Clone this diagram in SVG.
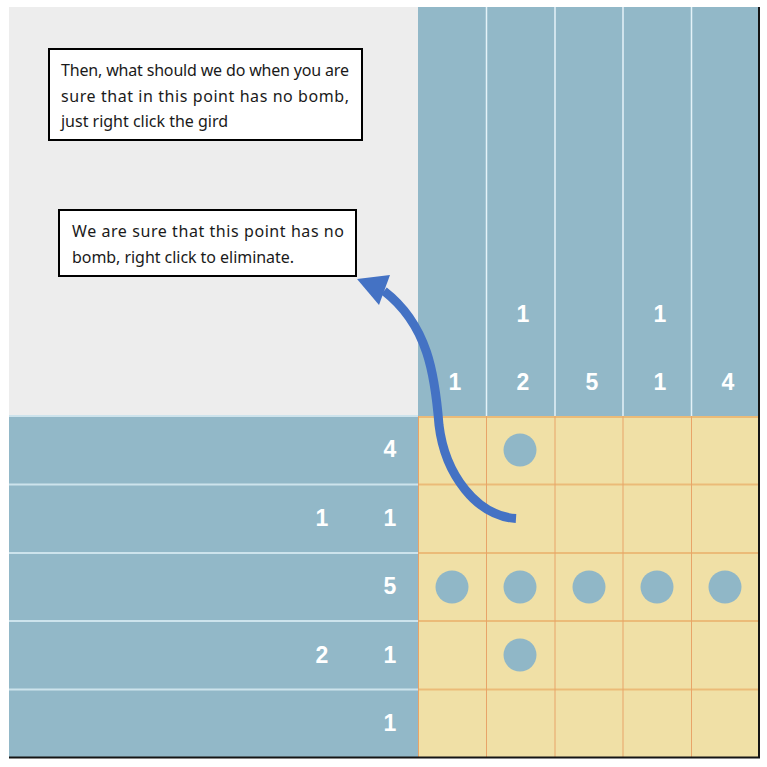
<svg xmlns="http://www.w3.org/2000/svg" width="767" height="767" viewBox="0 0 767 767">
<style>
.hdr{fill:#92B8C8}
.dot{fill:#90B7C7}
.num{font-family:"Liberation Sans",Arial,sans-serif;font-weight:bold;font-size:23px;fill:#FFFFFF;text-anchor:middle}
.box{fill:#FFFFFF;stroke:#000000;stroke-width:2}
.txt{font-family:"Noto Sans","Open Sans",sans-serif;font-size:16px;fill:#1A1A1A}
.wl{stroke:#E4F2F8;stroke-width:1.5}
.wh{stroke:#CDE3EC;stroke-width:2}
.gv{stroke:#E8A468;stroke-width:1}
.gh{stroke:#EBBB78;stroke-width:1.8}
</style>
<rect x="0" y="0" width="767" height="767" fill="#FFFFFF"/>
<g id="background">
<rect x="9" y="7" width="409" height="409" fill="#EDEDED"/>
<rect class="hdr" x="418" y="7" width="341" height="409"/>
<rect class="hdr" x="9" y="416" width="409" height="341"/>
<rect x="418" y="416" width="341" height="341" fill="#F0E0A6"/>
</g>
<g id="column-header-lines">
<line class="wl" x1="486.5" y1="7" x2="486.5" y2="416"/>
<line class="wl" x1="555" y1="7" x2="555" y2="416"/>
<line class="wl" x1="623" y1="7" x2="623" y2="416"/>
<line class="wl" x1="691.5" y1="7" x2="691.5" y2="416"/>
</g>
<g id="row-header-lines">
<line class="wh" x1="9" y1="416" x2="418" y2="416"/>
<line class="wh" x1="9" y1="484.5" x2="418" y2="484.5"/>
<line class="wh" x1="9" y1="553" x2="418" y2="553"/>
<line class="wh" x1="9" y1="621" x2="418" y2="621"/>
<line class="wh" x1="9" y1="689.5" x2="418" y2="689.5"/>
</g>
<g id="grid-lines">
<line class="gh" x1="418" y1="417" x2="759" y2="417"/>
<line class="gh" x1="418" y1="484.5" x2="759" y2="484.5"/>
<line class="gh" x1="418" y1="553" x2="759" y2="553"/>
<line class="gh" x1="418" y1="621" x2="759" y2="621"/>
<line class="gh" x1="418" y1="689.5" x2="759" y2="689.5"/>
<line class="gv" x1="418.5" y1="416" x2="418.5" y2="757"/>
<line class="gv" x1="486.5" y1="416" x2="486.5" y2="757"/>
<line class="gv" x1="555" y1="416" x2="555" y2="757"/>
<line class="gv" x1="623" y1="416" x2="623" y2="757"/>
<line class="gv" x1="691.5" y1="416" x2="691.5" y2="757"/>
</g>
<g id="border">
<line x1="759" y1="7" x2="759" y2="758" stroke="#141414" stroke-width="2"/>
<line x1="9" y1="757.5" x2="760" y2="757.5" stroke="#141414" stroke-width="2"/>
</g>
<g id="column-clues">
<text class="num" x="455" y="390">1</text>
<text class="num" x="523" y="322">1</text>
<text class="num" x="523" y="390">2</text>
<text class="num" x="592" y="390">5</text>
<text class="num" x="660" y="322">1</text>
<text class="num" x="660" y="390">1</text>
<text class="num" x="728" y="390">4</text>
</g>
<g id="row-clues">
<text class="num" x="390" y="457">4</text>
<text class="num" x="322" y="526">1</text>
<text class="num" x="390" y="526">1</text>
<text class="num" x="390" y="594">5</text>
<text class="num" x="322" y="663">2</text>
<text class="num" x="390" y="663">1</text>
<text class="num" x="390" y="731">1</text>
</g>
<g id="marks">
<circle class="dot" cx="520" cy="450" r="16.5"/>
<circle class="dot" cx="452" cy="587" r="16.5"/>
<circle class="dot" cx="520" cy="587" r="16.5"/>
<circle class="dot" cx="589" cy="587" r="16.5"/>
<circle class="dot" cx="657" cy="587" r="16.5"/>
<circle class="dot" cx="725" cy="587" r="16.5"/>
<circle class="dot" cx="520" cy="655" r="16.5"/>
</g>
<g id="note-1">
<rect class="box" x="49" y="49" width="313" height="91"/>
<text class="txt" x="61" y="76" textLength="288" lengthAdjust="spacing">Then, what should we do when you are</text>
<text class="txt" x="61" y="102" textLength="288" lengthAdjust="spacing">sure that in this point has no bomb,</text>
<text class="txt" x="61" y="127" textLength="167" lengthAdjust="spacing">just right click the gird</text>
</g>
<g id="note-2">
<rect class="box" x="59" y="210" width="297" height="66"/>
<text class="txt" x="72" y="237" textLength="272" lengthAdjust="spacing">We are sure that this point has no</text>
<text class="txt" x="72" y="263" textLength="222" lengthAdjust="spacing">bomb, right click to eliminate.</text>
</g>
<g id="connectors">
<path d="M516,518.5 C477,516 445,475 439,425 C435,375 428,325 384,291" fill="none" stroke="#4472C4" stroke-width="9"/>
<polygon points="357,279 390,275 379,305" fill="#4472C4"/>
</g>
</svg>
